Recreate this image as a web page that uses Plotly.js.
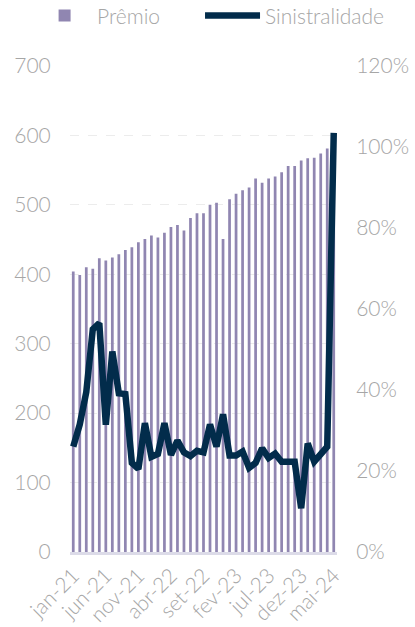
<!DOCTYPE html>
<html>
<head>
<meta charset="utf-8">
<script src="https://cdn.plot.ly/plotly-3.0.1.min.js"></script>
<style>
  html, body { margin: 0; padding: 0; background: #fff; }
  #chart { width: 415px; height: 627px; }
</style>
</head>
<body>
<div id="chart"></div>
<script>
// monthly labels, jan-21 .. mai-24
const months = [
  "jan-21", "fev-21", "mar-21", "abr-21", "mai-21", "jun-21", "jul-21", "ago-21", "set-21", "out-21", "nov-21", "dez-21",
  "jan-22", "fev-22", "mar-22", "abr-22", "mai-22", "jun-22", "jul-22", "ago-22", "set-22", "out-22", "nov-22", "dez-22",
  "jan-23", "fev-23", "mar-23", "abr-23", "mai-23", "jun-23", "jul-23", "ago-23", "set-23", "out-23", "nov-23", "dez-23",
  "jan-24", "fev-24", "mar-24", "abr-24", "mai-24"
];

// Prêmio (left axis)
const premio = [
  404, 399, 410, 408, 423, 420, 424, 429, 435, 439, 446, 451,
  456, 453, 460, 468, 471, 463, 481, 488, 488, 500, 503, 451,
  508, 516, 521, 525, 538, 532, 538, 541, 547, 556, 556, 564,
  567, 568, 574, 581, 595
];

// Sinistralidade (right axis, %)
const sinistralidade = [
  26, 31.5, 39.5, 55, 56.5, 31.4, 49.5, 39.2, 39, 22, 20.5, 31.8,
  23.5, 24.2, 31.8, 24, 27.5, 24.6, 23.7, 25, 24.6, 31.5, 26, 34,
  23.8, 23.8, 24.8, 20.8, 22, 25.6, 23.2, 24.3, 22.3, 22.3, 22.3, 10.8,
  26.8, 22.3, 24, 26, 103.5
];

const tickMonths = months.filter((m, i) => i % 5 === 0);

const grey = "#a6a6a6";
const fontFamily = "Lato, 'Open Sans', sans-serif";

const traces = [
  {
    type: "bar",
    name: "Prêmio",
    x: months,
    y: premio,
    marker: { color: "#9086b1" },
    legend: "legend",
  },
  {
    type: "scatter",
    mode: "lines",
    name: "Sinistralidade",
    x: months,
    y: sinistralidade.map(v => v / 100),
    yaxis: "y2",
    line: { color: "#022c4b", width: 6.5 },
    legend: "legend2",
  },
];

// two one-item legends so the gap between entries can match
const legendStyle = {
  orientation: "h",
  xanchor: "left",
  y: 1.103,
  yanchor: "middle",
  font: { size: 21, color: grey, family: fontFamily, weight: 300 },
  itemwidth: 55,
};

const layout = {
  width: 415,
  height: 627,
  margin: { t: 66, l: 70, r: 78, b: 75, autoexpand: false },
  paper_bgcolor: "#fff",
  plot_bgcolor: "#fff",
  font: { family: fontFamily, color: grey, size: 21, weight: 300 },
  bargap: 0.58,
  showlegend: true,
  legend: Object.assign({}, legendStyle, { x: -0.142 }),
  legend2: Object.assign({}, legendStyle, { x: 0.487 }),
  xaxis: {
    type: "category",
    tickvals: tickMonths,
    ticktext: tickMonths,
    tickangle: -45,
    tickfont: { size: 21, color: grey },
    showline: true,
    linecolor: "#dcdbe8",
    linewidth: 3,
    ticks: "",
    showgrid: false,
    fixedrange: true,
  },
  yaxis: {
    range: [0, 700],
    dtick: 100,
    showgrid: true,
    gridcolor: "#ececec",
    griddash: "dash",
    gridwidth: 1,
    zeroline: false,
    ticks: "outside",
    ticklen: 14,
    tickcolor: "rgba(0,0,0,0)",
    tickfont: { size: 21, color: grey },
  },
  yaxis2: {
    overlaying: "y",
    side: "right",
    range: [0, 1.2],
    dtick: 0.2,
    tickformat: ".0%",
    showgrid: false,
    zeroline: false,
    ticks: "outside",
    ticklen: 14,
    tickcolor: "rgba(0,0,0,0)",
    tickfont: { size: 21, color: grey },
  },
};

Plotly.newPlot("chart", traces, layout, { displayModeBar: false, staticPlot: true });
</script>
</body>
</html>
